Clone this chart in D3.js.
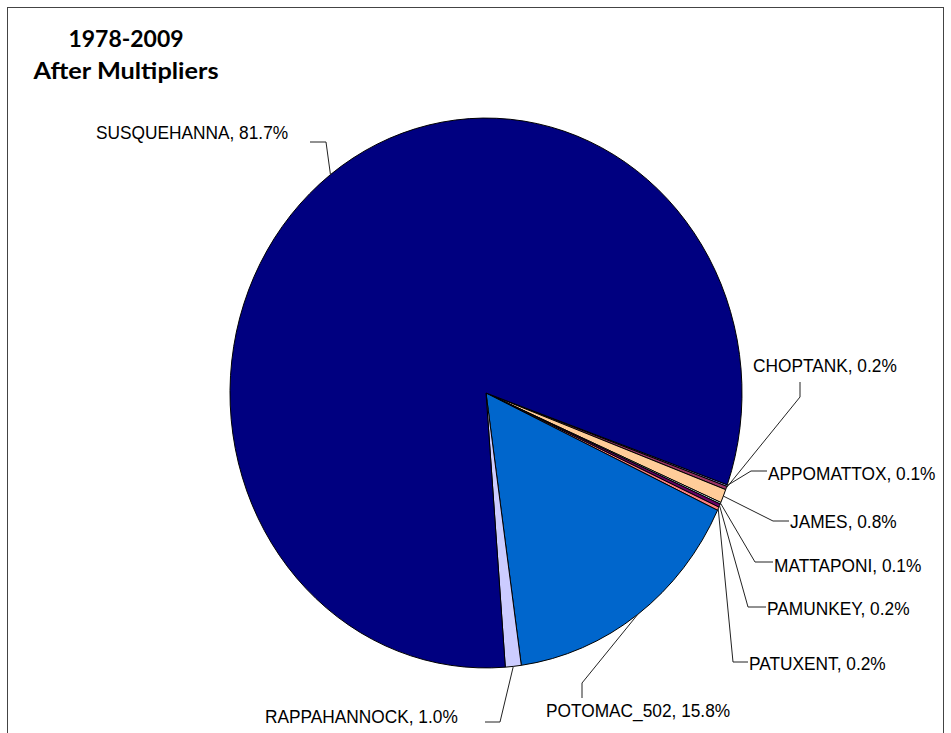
<!DOCTYPE html>
<html>
<head>
<meta charset="utf-8">
<script src="https://cdn.jsdelivr.net/npm/d3@7"></script>
<style>
  html, body { margin: 0; padding: 0; background: #fff; }
  svg { display: block; }
</style>
</head>
<body>
<svg id="chart" width="951" height="733"></svg>
<script>
// Share of load by river basin, 1978-2009, after multipliers (percent)
const categories = ["APPOMATTOX", "CHOPTANK", "JAMES", "MATTAPONI", "PAMUNKEY",
                    "PATUXENT", "POTOMAC_502", "RAPPAHANNOCK", "SUSQUEHANNA"];
const shares = [0.1, 0.2, 0.8, 0.1, 0.2, 0.2, 15.8, 1.0, 81.7];
const sliceColors = ["#9999FF", "#993366", "#FFCC99", "#CCFFFF", "#660066",
                     "#FF8080", "#0066CC", "#CCCCFF", "#000080"];
const titleLines = ["1978-2009", "After Multipliers"];

// Label placement: text anchor point and leader elbow points (screen px)
const labelLayout = [
  { text: [768, 480], elbow: [[767, 471], [751, 471]] },
  { text: [753, 372], elbow: [[800, 382], [800, 397]] },
  { text: [790, 528], elbow: [[789, 521], [773, 521]] },
  { text: [774, 572], elbow: [[773, 562], [755, 562]] },
  { text: [767, 615], elbow: [[766, 607], [748, 607]] },
  { text: [749, 670], elbow: [[748, 662], [733, 662]] },
  { text: [546, 717], elbow: [[582, 698], [582, 683]] },
  { text: [265, 723], elbow: [[485, 722], [500, 722]] },
  { text: [96, 139],  elbow: [[310, 142], [326, 142]] }
];

const cx = 486, cy = 393, R = 256, k = 1.074;   // vertical stretch of the plot
const startDeg = 109.5;

const svg = d3.select("#chart");

// frame
svg.append("rect")
  .attr("x", 7.5).attr("y", 7.5)
  .attr("width", 936).attr("height", 760)
  .attr("fill", "#fff")
  .attr("stroke", "#444").attr("stroke-width", 1);

// title
const title = svg.append("g");
[[47, titleLines[0], 115], [79, titleLines[1], 185]].forEach(([y, t, w]) => {
  title.append("text")
    .attr("transform", `translate(126,${y}) scale(1,${k})`)
    .attr("text-anchor", "middle")
    .attr("font-family", "Lato, 'Open Sans', sans-serif")
    .attr("font-weight", "bold")
    .attr("font-size", 20.5)
    .attr("textLength", w)
    .attr("lengthAdjust", "spacingAndGlyphs")
    .attr("fill", "#000")
    .text(t);
});

// pie
const a0 = startDeg * Math.PI / 180;
const pie = d3.pie().sort(null).value(d => d.v)
  .startAngle(a0).endAngle(a0 + 2 * Math.PI);
const data = categories.map((c, i) => ({ c, v: shares[i], color: sliceColors[i], i }));
const arcs = pie(data);
const arc = d3.arc().innerRadius(0).outerRadius(R);

const pg = svg.append("g").attr("transform", `translate(${cx},${cy}) scale(1,${k})`);
pg.selectAll("path")
  .data(arcs)
  .join("path")
  .attr("d", arc)
  .attr("fill", d => d.data.color)
  .attr("stroke", "#000")
  .attr("stroke-width", 1)
  .attr("stroke-linejoin", "round")
  .attr("vector-effect", "non-scaling-stroke");

// leader lines and labels
const fmt = d3.format(".1f");
const lg = svg.append("g");
arcs.forEach((d, i) => {
  const mid = (d.startAngle + d.endAngle) / 2;
  const ex = cx + R * Math.sin(mid);
  const ey = cy - R * k * Math.cos(mid);
  const L = labelLayout[i];
  const pts = L.elbow.concat([[ex, ey]]);
  lg.append("path")
    .attr("d", d3.line()(pts))
    .attr("fill", "none")
    .attr("stroke", "#222")
    .attr("stroke-width", 1);
  lg.append("text")
    .attr("transform", `translate(${L.text[0]},${L.text[1]}) scale(1,${k})`)
    .attr("font-family", "'Liberation Sans', Arial, sans-serif")
    .attr("font-size", 17.3)
    .attr("fill", "#000")
    .text(`${d.data.c}, ${fmt(d.data.v)}%`);
});
</script>
</body>
</html>
